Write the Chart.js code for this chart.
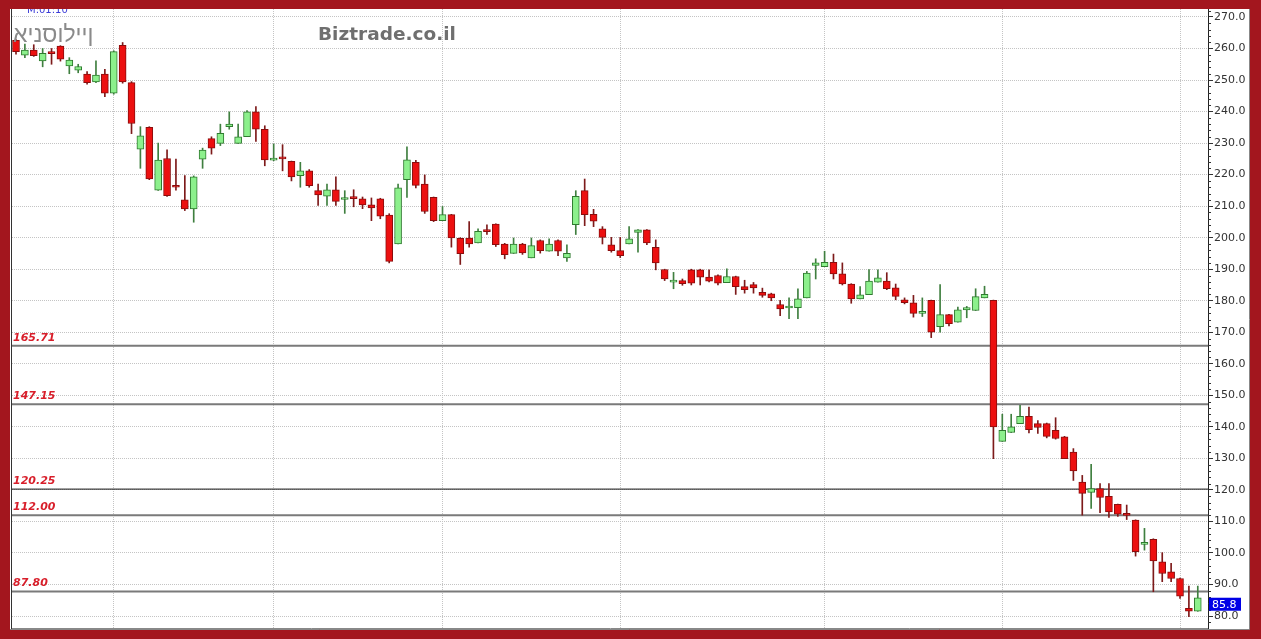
<!DOCTYPE html>
<html>
<head>
<meta charset="utf-8">
<title>אינסוליין - Biztrade.co.il</title>
<style>
  html, body { margin: 0; padding: 0; background: #a3161e; }
  #wrap { position: absolute; left: 0; top: 0; width: 1261px; height: 639px; }
</style>
</head>
<body>
<div id="wrap"><canvas id="chart" width="1261" height="639"></canvas></div>
<script src="https://cdn.jsdelivr.net/npm/chart.js"></script>
<script>
// daily candles, oldest first
const opens = [262.6,257.9,259.5,256.1,258.6,260.8,254.5,253.1,251.9,249.4,
  251.9,245.8,261.0,249.2,228.1,235.0,215.1,225.1,216.2,212.0,
  209.1,224.9,231.4,229.9,235.2,229.9,232.0,239.9,234.4,224.6,
  225.2,224.2,219.7,221.2,214.9,213.2,215.2,212.1,212.6,212.3,
  210.4,212.3,207.2,198.0,218.4,223.9,217.0,212.8,205.4,207.3,
  199.8,199.9,198.3,202.1,204.3,198.0,195.0,198.0,193.6,199.1,
  195.7,199.1,193.6,204.1,214.9,207.4,202.8,197.7,195.9,198.0,
  201.7,202.5,196.9,189.9,185.9,186.4,189.8,189.8,187.5,188.0,
  185.7,187.7,184.5,185.1,182.7,182.2,178.8,177.7,177.8,180.9,
  191.2,190.8,192.2,188.5,185.3,180.6,181.9,185.9,186.2,184.1,
  180.3,179.3,176.0,180.1,171.8,175.6,173.2,177.1,176.9,180.9,
  180.1,135.4,138.2,141.0,143.3,141.0,141.0,138.9,136.8,132.0,
  122.5,119.2,120.4,118.0,115.4,112.1,110.4,102.7,104.3,97.2,
  94.0,91.9,82.4,81.5];
const highs = [262.8,261.4,261.2,260.0,260.0,260.9,257.1,255.0,252.7,256.1,
  253.4,259.3,261.9,249.5,235.2,235.2,230.0,227.9,224.9,219.7,
  219.6,228.4,232.0,236.0,239.9,236.0,240.3,241.6,235.5,229.7,
  229.5,224.3,223.9,221.6,217.0,217.0,219.3,214.9,215.2,212.9,
  212.6,212.5,207.6,217.0,228.8,224.5,219.9,212.9,209.9,207.4,
  200.0,205.1,202.8,204.1,204.4,198.2,199.9,198.2,199.9,199.3,
  199.6,199.3,197.7,214.9,218.6,209.0,203.5,200.1,200.1,203.5,
  202.6,202.6,199.3,190.0,189.0,186.9,190.0,190.0,189.8,188.2,
  190.1,187.8,186.5,185.8,184.0,182.4,180.1,180.9,183.8,189.3,
  193.3,195.7,194.8,192.0,185.4,184.5,189.9,189.8,188.9,185.3,
  180.9,181.7,180.9,180.2,185.1,175.7,178.0,178.2,183.8,184.6,
  180.2,144.0,144.0,146.8,146.3,142.0,141.2,142.9,137.0,133.1,
  124.6,128.1,122.0,122.0,115.5,115.2,110.5,107.8,104.5,100.1,
  96.7,92.0,89.5,89.5];
const lows = [258.2,257.1,257.5,254.2,255.0,256.0,252.0,252.3,248.7,249.2,
  244.7,245.5,249.0,233.0,222.0,218.4,215.0,213.1,215.1,208.6,
  204.9,222.0,226.5,229.2,234.4,229.9,232.0,230.5,222.8,224.4,
  221.2,218.0,216.0,216.0,210.2,210.2,210.2,207.7,209.8,209.2,
  205.4,206.0,192.0,198.0,212.8,215.8,207.7,205.1,205.4,197.0,
  191.5,197.0,198.3,201.0,197.2,193.3,195.0,194.7,193.6,195.1,
  195.7,194.3,192.5,201.0,203.8,203.5,198.0,195.4,193.7,198.0,
  195.4,197.8,189.8,186.4,183.8,184.9,185.0,185.0,186.0,185.0,
  185.7,182.0,182.4,182.4,181.1,180.0,175.3,174.3,174.3,180.9,
  186.9,190.8,186.9,185.0,179.2,180.6,181.9,185.9,183.5,180.3,
  179.0,174.8,175.0,168.3,170.0,172.0,173.2,174.6,176.9,180.9,
  129.9,135.4,138.2,141.0,138.1,137.9,136.5,136.1,129.9,123.0,
  112.0,114.1,112.8,111.3,111.6,110.6,99.0,100.9,87.7,90.9,
  90.9,85.6,79.8,81.5];
const closes = [259.0,259.5,257.7,258.5,258.4,256.6,256.3,254.3,249.2,251.6,
  245.8,259.0,249.4,236.2,232.3,218.6,224.6,213.3,216.0,209.1,
  219.3,227.8,228.4,233.1,236.0,232.0,239.9,234.4,224.7,224.8,
  225.0,219.3,221.2,216.5,213.6,215.2,211.5,212.6,212.4,210.4,
  209.4,206.8,192.5,215.8,224.7,216.6,208.3,205.4,207.3,199.9,
  194.9,198.0,202.0,201.9,197.8,194.6,198.0,195.2,197.5,195.9,
  198.0,195.7,195.0,213.1,207.3,205.2,200.1,195.9,194.3,199.6,
  202.5,198.3,192.0,186.9,186.4,185.4,185.6,187.5,186.2,185.6,
  187.7,184.5,183.5,184.1,181.7,180.9,177.4,178.0,180.6,188.8,
  192.0,192.2,188.5,185.3,180.6,181.9,186.2,187.3,183.8,181.4,
  179.4,176.0,176.4,170.0,175.6,172.7,177.1,177.8,181.3,182.0,
  140.0,138.9,140.0,143.3,139.1,139.8,137.0,136.3,129.9,126.0,
  118.9,120.4,117.6,113.0,112.3,111.9,100.4,103.3,97.5,93.5,
  91.9,86.3,81.5,85.8];

// horizontal support / resistance levels
const levelValues = [165.71, 147.15, 120.25, 112.00, 87.80];
// y axis tick values
const yTicks = [80, 90, 100, 110, 120, 130, 140, 150, 160, 170, 180, 190, 200, 210, 220, 230, 240, 250, 260, 270];
// candle index where a new month starts (vertical grid)
const monthStarts = [11, 29, 48, 68, 91, 111, 131];

const levelColors = ['#7a7a7a', '#7a7a7a', '#111111', '#7a7a7a', '#7a7a7a'];
const levelWidths = [2, 2, 1, 2, 2];

const up = closes.map((c, i) => c >= opens[i]);
const bodyFill = up.map(u => u ? '#8cf08c' : '#ec1010');
const bodyLine = up.map(u => u ? '#2f7a2f' : '#8a0d0d');
const wickColor = up.map(u => u ? '#3f7f3f' : '#7d1a1a');

const X_MIN = -0.45, X_MAX = 134.15;

const datasets = [
  {
    type: 'bar',
    data: opens.map((o, i) => ({ x: i, y: [o, closes[i]] })),
    backgroundColor: bodyFill,
    borderColor: bodyLine,
    borderWidth: 1,
    borderSkipped: false,
    barThickness: 7,
    minBarLength: 2,
    grouped: false
  },
  {
    type: 'bar',
    data: lows.map((l, i) => ({ x: i, y: [l, highs[i]] })),
    backgroundColor: wickColor,
    borderWidth: 0,
    barThickness: 1,
    grouped: false
  }
];
levelValues.forEach((v, k) => {
  datasets.push({
    type: 'line',
    data: [{ x: X_MIN, y: v }, { x: X_MAX, y: v }],
    borderColor: levelColors[k],
    borderWidth: levelWidths[k],
    pointRadius: 0,
    order: 5
  });
});

const frame = {
  id: 'frame',
  beforeDraw(chart) {
    const ctx = chart.ctx;
    ctx.save();
    ctx.fillStyle = '#a3161e';
    ctx.fillRect(0, 0, chart.width, chart.height);
    ctx.fillStyle = '#ffffff';
    ctx.fillRect(10, 9, 1240, 620);
    ctx.restore();
  },
  afterDraw(chart) {
    const ctx = chart.ctx;
    const y = chart.scales.y;
    const a = chart.chartArea;
    ctx.save();
    // panel edges
    ctx.strokeStyle = '#333';
    ctx.lineWidth = 1;
    ctx.beginPath();
    ctx.moveTo(11.5, 9); ctx.lineTo(11.5, 629);
    ctx.stroke();
    ctx.strokeStyle = '#888';
    ctx.beginPath();
    ctx.moveTo(1249.5, 9); ctx.lineTo(1249.5, 629.5); ctx.lineTo(10, 629.5);
    ctx.stroke();

    // minor ticks on the price axis
    ctx.strokeStyle = '#333';
    ctx.beginPath();
    for (let v = 78; v <= 272; v += 2) {
      if (v % 10 === 0) continue;
      const py = Math.round(y.getPixelForValue(v)) + 0.5;
      ctx.moveTo(a.right, py); ctx.lineTo(a.right + 3, py);
    }
    ctx.stroke();

    // level labels
    ctx.font = 'italic bold 11px "DejaVu Sans"';
    ctx.fillStyle = '#d81e2a';
    ctx.textAlign = 'left';
    ctx.textBaseline = 'alphabetic';
    levelValues.forEach(v => {
      ctx.fillText(v.toFixed(2), 13, y.getPixelForValue(v) - 5);
    });

    // last price marker
    const last = closes[closes.length - 1];
    const ly = y.getPixelForValue(last);
    ctx.fillStyle = '#0000e6';
    ctx.fillRect(a.right + 1, ly, 32, 13);
    ctx.fillStyle = '#ffffff';
    ctx.font = '11px "DejaVu Sans"';
    ctx.textBaseline = 'middle';
    ctx.fillText(last.toFixed(1), a.right + 4, ly + 7);

    // titles (the source draws the Hebrew name in left-to-right glyph order)
    ctx.fillStyle = '#8a8a8a';
    ctx.font = '23px "Liberation Sans"';
    ctx.textBaseline = 'middle';
    ctx.fillText('\u202Dאינסוליין\u202C', 13, 36);
    ctx.fillStyle = '#6f6f6f';
    ctx.font = 'bold 18.5px "DejaVu Sans"';
    ctx.fillText('Biztrade.co.il', 318, 35);

    ctx.fillStyle = '#3b3bd6';
    ctx.font = '10px "DejaVu Sans"';
    ctx.fillText('M:01:10', 27, 10);
    ctx.fillStyle = '#a3161e';
    ctx.fillRect(0, 0, chart.width, 9);
    ctx.restore();
  }
};

new Chart(document.getElementById('chart'), {
  data: { datasets: datasets },
  options: {
    responsive: false,
    animation: false,
    devicePixelRatio: 1,
    layout: { padding: { left: 12, right: 9, top: 9, bottom: 11 } },
    plugins: { legend: { display: false }, tooltip: { enabled: false } },
    scales: {
      x: {
        type: 'linear',
        offset: false,
        min: X_MIN,
        max: X_MAX,
        afterBuildTicks: s => { s.ticks = monthStarts.map(v => ({ value: v })); },
        afterFit: s => { s.height = 0; },
        ticks: { display: false },
        grid: { color: '#c4c4c4', drawTicks: false, offset: false },
        border: { display: true, color: '#888', dash: [1, 1] }
      },
      y: {
        position: 'right',
        min: 76.2,
        max: 272.53,
        afterBuildTicks: s => { s.ticks = yTicks.map(v => ({ value: v })); },
        afterFit: s => { s.width = 44; },
        ticks: {
          padding: 1,
          color: '#333',
          font: { family: 'DejaVu Sans', size: 11 },
          callback: v => Number(v).toFixed(1)
        },
        grid: { color: '#c4c4c4', tickLength: 5, tickColor: '#333', tickBorderDash: [] },
        border: { display: true, color: '#222', dash: [1, 1] }
      }
    }
  },
  plugins: [frame]
});
</script>
</body>
</html>
